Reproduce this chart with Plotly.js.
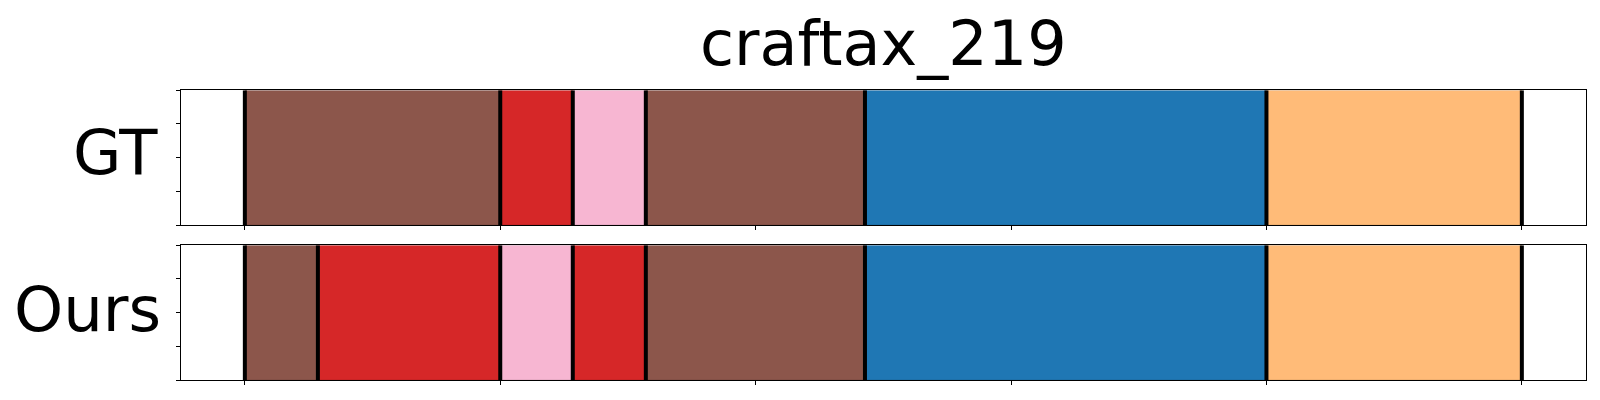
<!DOCTYPE html>
<html>
<head>
<meta charset="utf-8">
<script src="https://cdn.plot.ly/plotly-3.0.1.min.js"></script>
<style>html,body{margin:0;padding:0;background:#fff;}#chart{width:1600px;height:400px;}</style>
</head>
<body>
<div id="chart"></div>
<script>
// ---- data ----
const chartTitle = "craftax_219";
const rowLabels = ["GT", "Ours"];
const gtBounds = [0, 50, 64.2, 78.5, 121.4, 200, 250];
const gtClasses = ["brown", "red", "pink", "brown", "blue", "orange"];
const oursBounds = [0, 14.3, 50, 64.2, 78.5, 121.4, 200, 250];
const oursClasses = ["brown", "red", "pink", "red", "brown", "blue", "orange"];
const xTicks = [0, 50, 100, 150, 200, 250];
const yTicks = [0, 0.25, 0.5, 0.75, 1];

const classColors = {
  brown: "#8c564b",
  red: "#d62728",
  pink: "#f7b6d2",
  blue: "#1f77b4",
  orange: "#ffbb78"
};

function segTrace(bounds, classes, xa, ya) {
  const base = [], len = [], cols = [], ys = [];
  for (let i = 0; i < classes.length; i++) {
    base.push(bounds[i]);
    len.push(bounds[i + 1] - bounds[i]);
    cols.push(classColors[classes[i]]);
    ys.push(0.5);
  }
  return {
    type: "bar", orientation: "h", base: base, x: len, y: ys, width: 1,
    marker: { color: cols, line: { width: 1, color: "rgba(0,0,0,0.12)" } },
    xaxis: xa, yaxis: ya, hoverinfo: "skip", showlegend: false
  };
}
function boundTrace(bounds, xa, ya) {
  const xs = [], ys = [];
  bounds.forEach(b => { xs.push(b, b, null); ys.push(0, 1, null); });
  return {
    type: "scatter", mode: "lines", x: xs, y: ys,
    line: { color: "#000", width: 4 },
    xaxis: xa, yaxis: ya, hoverinfo: "skip", showlegend: false
  };
}

const traces = [
  segTrace(gtBounds, gtClasses, "x", "y"),
  boundTrace(gtBounds, "x", "y"),
  segTrace(oursBounds, oursClasses, "x2", "y2"),
  boundTrace(oursBounds, "x2", "y2")
];

const xDom = [181 / 1600, 1585.7 / 1600];
const axX = (anchor) => ({
  domain: xDom, range: [-12.5, 262.5], anchor: anchor,
  showline: true, mirror: true, linecolor: "#000", linewidth: 1,
  showgrid: false, zeroline: false,
  tickmode: "array", tickvals: xTicks, ticks: "outside", ticklen: 4, tickwidth: 1, tickcolor: "#000",
  showticklabels: false, fixedrange: true
});
const axY = (dom, anchor) => ({
  domain: dom, range: [0, 1], anchor: anchor,
  showline: true, mirror: true, linecolor: "#000", linewidth: 1,
  showgrid: false, zeroline: false,
  tickmode: "array", tickvals: yTicks, ticks: "outside", ticklen: 4, tickwidth: 1, tickcolor: "#000",
  showticklabels: false, fixedrange: true
});

const layout = {
  width: 1600, height: 400,
  margin: { l: 0, r: 0, t: 0, b: 0 },
  paper_bgcolor: "#fff", plot_bgcolor: "#fff",
  barmode: "overlay",
  xaxis: axX("y"),
  yaxis: axY([1 - 225 / 400, 1 - 90.3 / 400], "x"),
  xaxis2: axX("y2"),
  yaxis2: axY([1 - 380 / 400, 1 - 245.3 / 400], "x2"),
  font: { family: "DejaVu Sans", color: "#000" },
  annotations: [
    { text: chartTitle, xref: "paper", yref: "paper", x: 883 / 1600, y: 1 - 43 / 400,
      xanchor: "center", yanchor: "middle", showarrow: false, font: { size: 62, family: "DejaVu Sans", color: "#000" } },
    { text: rowLabels[0], xref: "paper", yref: "paper", x: 160 / 1600, y: 1 - 152.3 / 400,
      xanchor: "right", yanchor: "middle", showarrow: false, font: { size: 62.5, family: "DejaVu Sans", color: "#000" } },
    { text: rowLabels[1], xref: "paper", yref: "paper", x: 162.5 / 1600, y: 1 - 309 / 400,
      xanchor: "right", yanchor: "middle", showarrow: false, font: { size: 62.5, family: "DejaVu Sans", color: "#000" } }
  ]
};

Plotly.newPlot("chart", traces, layout, { displayModeBar: false, staticPlot: true });
</script>
</body>
</html>
